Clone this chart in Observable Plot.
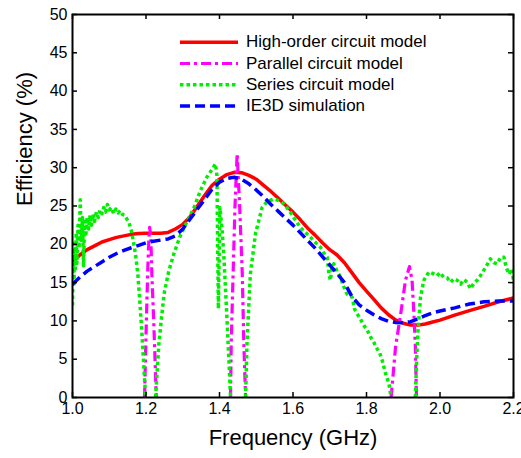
<!DOCTYPE html>
<html>
<head>
<meta charset="utf-8">
<script src="https://cdn.jsdelivr.net/npm/d3@7"></script>
<script src="https://cdn.jsdelivr.net/npm/@observablehq/plot@0.6"></script>
<style>
  html, body { margin: 0; padding: 0; background: #fff; }
  #chart svg { display: block; }
</style>
</head>
<body>
<div id="chart"></div>
<script>
// ---- Data ----
const xTicks = [1.0, 1.2, 1.4, 1.6, 1.8, 2.0, 2.2];
const yTicks = [0, 5, 10, 15, 20, 25, 30, 35, 40, 45, 50];

const seriesNames = ["High-order circuit model", "Parallel circuit model", "Series circuit model", "IE3D simulation"];

// High-order circuit model [GHz, %]
const highOrder = [
  [1.00,17.7],[1.02,18.6],[1.04,19.3],[1.06,19.8],[1.08,20.3],[1.10,20.6],[1.12,20.9],[1.14,21.1],
  [1.16,21.3],[1.18,21.4],[1.20,21.45],[1.22,21.45],[1.24,21.45],[1.26,21.55],[1.28,22.0],[1.30,22.6],
  [1.32,23.6],[1.34,25.0],[1.36,26.4],[1.38,27.7],[1.40,28.5],[1.42,29.1],[1.44,29.4],[1.46,29.35],
  [1.48,29.0],[1.50,28.5],[1.52,27.7],[1.54,26.9],[1.56,26.0],[1.58,25.1],[1.60,24.2],[1.62,23.2],
  [1.64,22.1],[1.66,21.2],[1.68,20.2],[1.70,19.3],[1.72,18.6],[1.74,17.6],[1.76,16.3],[1.78,15.0],
  [1.80,13.9],[1.82,12.8],[1.84,11.7],[1.86,10.8],[1.88,10.1],[1.90,9.7],[1.92,9.45],[1.94,9.45],
  [1.96,9.6],[1.98,9.85],[2.00,10.1],[2.04,10.75],[2.08,11.35],[2.12,11.9],[2.16,12.5],[2.20,13.0]
];

// Parallel circuit model (only visible near the resonances; elsewhere below 0)
const parallel = [
  [1.196,0],[1.201,10],[1.205,17],[1.208,21],[1.210,22.2],[1.213,21],[1.216,16],[1.221,10],[1.228,0],
  [1.330,NaN],
  [1.430,0],[1.432,7.4],[1.437,16.1],[1.442,24.8],[1.448,31.8],[1.455,24.8],[1.462,16.1],[1.466,7.4],[1.471,0],
  [1.700,NaN],
  [1.867,0],[1.879,6.6],[1.893,10.9],[1.906,15.3],[1.917,17.1],[1.924,15.3],[1.929,10.9],[1.933,6.6],[1.936,0]
];

// Series circuit model
const series = [
  [1.000,12.0],[1.002,19.5],[1.004,14.5],[1.006,20.5],[1.008,16.8],[1.010,21.5],[1.012,17.5],[1.015,22.5],
  [1.018,19.5],[1.021,25.8],[1.024,20.5],[1.027,23.5],[1.030,17.2],[1.033,23.0],[1.036,21.0],[1.040,23.5],
  [1.044,22.0],[1.048,23.8],[1.052,22.5],[1.056,24.0],[1.060,23.0],[1.065,24.2],[1.070,23.5],[1.075,24.5],
  [1.080,24.0],[1.085,24.8],[1.090,24.2],[1.095,25.2],[1.100,24.5],[1.106,24.8],[1.112,24.0],[1.118,24.6],
  [1.124,24.1],[1.130,24.4],[1.136,23.9],[1.142,23.8],[1.148,23.3],[1.154,22.8],[1.160,21.8],[1.166,20.3],
  [1.172,18.5],[1.178,16.0],[1.184,12.0],[1.190,7.5],[1.196,2.5],[1.199,0],
  [1.212,NaN],
  [1.226,0],[1.235,7.0],[1.249,13.5],[1.262,16.5],[1.276,18.8],[1.294,21.2],[1.312,23.0],[1.330,24.7],
  [1.348,27.0],[1.366,28.8],[1.380,29.8],[1.389,30.5],[1.393,29.0],[1.395,20.0],[1.397,11.6],[1.399,18.0],
  [1.401,24.8],[1.407,22.0],[1.412,18.3],[1.417,13.5],[1.421,9.6],[1.426,4.5],[1.430,0],
  [1.450,NaN],
  [1.471,0],[1.475,7.4],[1.484,16.1],[1.498,21.4],[1.516,24.8],[1.530,25.6],[1.548,25.9],[1.562,25.7],
  [1.575,25.3],[1.590,24.4],[1.602,23.5],[1.620,22.2],[1.635,21.5],[1.648,20.9],[1.662,20.2],[1.675,19.6],
  [1.685,18.8],[1.693,18.3],[1.698,16.0],[1.702,15.3],[1.706,17.0],[1.711,17.45],[1.720,16.5],[1.729,15.7],
  [1.738,14.5],[1.747,13.5],[1.761,13.1],[1.768,11.5],[1.775,10.9],[1.784,10.2],[1.793,9.4],[1.802,8.8],
  [1.811,7.9],[1.820,7.2],[1.829,6.35],[1.836,5.8],[1.843,4.8],[1.852,3.1],[1.861,1.8],[1.866,0.3],
  [1.900,NaN],
  [1.933,0],[1.936,4.4],[1.940,8.7],[1.947,13.1],[1.956,15.3],[1.970,16.4],[1.980,16.2],[1.992,15.9],
  [2.000,16.3],[2.010,15.7],[2.020,15.6],[2.029,15.05],[2.038,15.5],[2.047,15.3],[2.056,14.8],[2.065,15.4],
  [2.074,15.05],[2.083,14.2],[2.092,14.9],[2.101,15.3],[2.110,15.9],[2.119,16.6],[2.128,17.3],[2.137,18.1],
  [2.146,17.6],[2.156,17.45],[2.165,18.3],[2.174,18.3],[2.180,17.0],[2.188,16.1],[2.195,16.8],[2.200,15.3]
];

// IE3D simulation
const ie3d = [
  [1.00,14.8],[1.02,15.7],[1.04,16.5],[1.06,17.1],[1.08,17.7],[1.10,18.3],[1.12,18.8],[1.14,19.2],
  [1.16,19.55],[1.18,19.85],[1.20,20.2],[1.22,20.4],[1.24,20.55],[1.26,20.7],[1.28,21.1],[1.30,22.0],
  [1.32,23.3],[1.34,24.6],[1.36,25.9],[1.38,27.2],[1.40,28.1],[1.42,28.6],[1.44,28.75],[1.46,28.5],
  [1.48,27.9],[1.50,27.1],[1.52,26.2],[1.54,25.2],[1.56,24.3],[1.58,23.4],[1.60,22.5],[1.62,21.5],
  [1.64,20.5],[1.66,19.5],[1.68,18.4],[1.70,17.3],[1.72,16.2],[1.74,15.0],[1.76,13.2],[1.78,12.1],
  [1.80,11.4],[1.82,10.8],[1.84,10.3],[1.86,9.95],[1.88,9.8],[1.90,9.75],[1.92,9.9],[1.94,10.25],
  [1.96,10.7],[1.98,11.05],[2.00,11.3],[2.04,11.7],[2.08,12.2],[2.12,12.5],[2.16,12.6],[2.20,12.6]
];

// ---- Styles ----
const FONT = "'Liberation Sans', Arial, Helvetica, sans-serif";
const styles = [
  {stroke: "#ff0000", dash: null, width: 3.5},
  {stroke: "#ff00ff", dash: "10,4,3,4", width: 3.2},
  {stroke: "#00ee00", dash: "3.5,3", width: 3.5},
  {stroke: "#0000ff", dash: "10,5", width: 3.5}
];
const datasets = [highOrder, parallel, series, ie3d];

const W = 521, H = 458;
const mL = 72, mR = 8, mT = 14, mB = 61;
const innerH = H - mT - mB, innerW = W - mL - mR;
const T = 5; // inward tick length

const lineMarks = datasets.map((d, i) => Plot.line(d, {
  x: p => p[0], y: p => p[1],
  stroke: styles[i].stroke, strokeWidth: styles[i].width,
  strokeDasharray: styles[i].dash, strokeLinecap: "butt", strokeLinejoin: "round",
  clip: true, curve: "linear"
}));

const chart = Plot.plot({
  width: W, height: H,
  marginLeft: mL, marginRight: mR, marginTop: mT, marginBottom: mB,
  style: {fontFamily: FONT, background: "#fff", color: "#000", overflow: "visible"},
  x: {domain: [1.0, 2.2]},
  y: {domain: [0, 50]},
  marks: [
    ...lineMarks,
    Plot.frame({stroke: "#000", strokeWidth: 2}),
    // inward ticks on all four sides
    Plot.tickX(xTicks, {x: d => d, insetTop: innerH - T, stroke: "#000", strokeWidth: 1.5}),
    Plot.tickX(xTicks, {x: d => d, insetBottom: innerH - T, stroke: "#000", strokeWidth: 1.5}),
    Plot.tickY(yTicks, {y: d => d, insetRight: innerW - T, stroke: "#000", strokeWidth: 1.5}),
    Plot.tickY(yTicks, {y: d => d, insetLeft: innerW - T, stroke: "#000", strokeWidth: 1.5}),
    Plot.axisX({ticks: xTicks, tickSize: 0, tickPadding: 5, tickFormat: d3.format(".1f"), fontSize: 16, label: null}),
    Plot.axisY({ticks: yTicks, tickSize: 0, tickPadding: 5, tickFormat: d3.format("d"), fontSize: 16, label: null}),
    Plot.text(["Frequency (GHz)"], {frameAnchor: "bottom", dy: 40, lineAnchor: "middle", fontSize: 22, fill: "#000"}),
    Plot.text(["Efficiency (%)"], {frameAnchor: "left", dx: -48, rotate: -90, lineAnchor: "middle", fontSize: 22, fill: "#000"})
  ]
});

document.getElementById("chart").appendChild(chart);

// ---- Legend (inside the axes, top) ----
const svg = d3.select(chart);
const leg = svg.append("g").attr("font-family", FONT).attr("font-size", 17).attr("text-anchor", "start");
const rowY = [42.3, 63.5, 84.8, 106];
seriesNames.forEach((name, i) => {
  leg.append("line")
    .attr("x1", 180).attr("x2", 238)
    .attr("y1", rowY[i]).attr("y2", rowY[i])
    .attr("stroke", styles[i].stroke)
    .attr("stroke-width", styles[i].width)
    .attr("stroke-dasharray", styles[i].dash);
  leg.append("text")
    .attr("x", 246).attr("y", rowY[i] + 5)
    .attr("fill", "#000")
    .attr("text-anchor", "start")
    .text(name);
});
</script>
</body>
</html>
